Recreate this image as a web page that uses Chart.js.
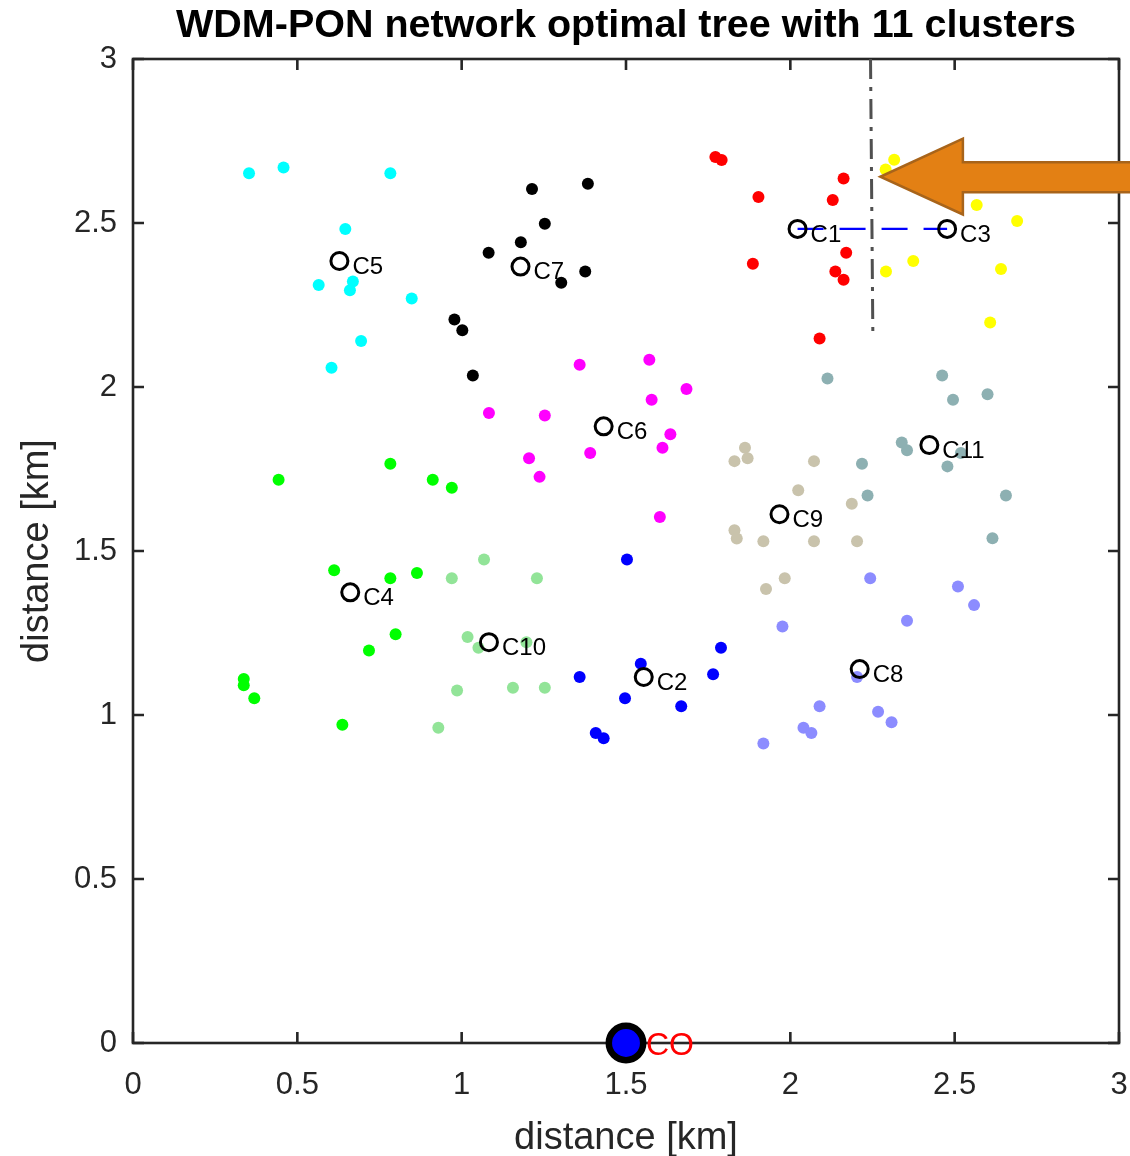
<!DOCTYPE html>
<html lang="en">

<head>
  <meta charset="UTF-8">
  <script src="https://cdn.jsdelivr.net/npm/chart.js@4.4.1/dist/chart.umd.min.js"></script>
  <title>WDM-PON tree</title>
  <style>
    body { margin: 0; background: #fff; }
  </style>
</head>

<body>
  <canvas id="myChart" width="1130" height="1156"></canvas>
  <script>
    // cluster member points, [x, y] in km
    const c1Points = [[1.772, 2.701], [1.791, 2.692], [1.903, 2.579], [2.162, 2.636], [2.129, 2.570],
      [2.170, 2.409], [1.886, 2.376], [2.137, 2.352], [2.162, 2.327], [2.089, 2.148]];
    const c2Points = [[1.503, 1.474], [1.359, 1.116], [1.497, 1.051], [1.408, 0.945], [1.432, 0.929],
      [1.545, 1.156], [1.789, 1.205], [1.765, 1.124], [1.668, 1.027]];
    const c3Points = [[2.316, 2.693], [2.290, 2.663], [2.567, 2.555], [2.690, 2.506], [2.374, 2.384],
      [2.291, 2.352], [2.641, 2.360], [2.608, 2.197]];
    const c4Points = [[0.443, 1.717], [0.783, 1.766], [0.912, 1.717], [0.970, 1.693], [0.612, 1.441],
      [0.783, 1.417], [0.864, 1.433], [0.799, 1.246], [0.718, 1.197], [0.337, 1.110], [0.337, 1.091],
      [0.369, 1.051], [0.637, 0.970]];
    const c5Points = [[0.353, 2.652], [0.458, 2.669], [0.783, 2.652], [0.646, 2.482], [0.565, 2.311],
      [0.669, 2.322], [0.660, 2.295], [0.848, 2.270], [0.694, 2.140], [0.604, 2.059]];
    const c6Points = [[1.359, 2.068], [1.083, 1.921], [1.253, 1.913], [1.571, 2.083], [1.684, 1.994],
      [1.578, 1.961], [1.635, 1.856], [1.611, 1.815], [1.603, 1.604], [1.391, 1.799], [1.205, 1.783],
      [1.237, 1.726]];
    const c7Points = [[1.214, 2.604], [1.384, 2.620], [1.253, 2.498], [1.180, 2.441], [1.082, 2.409],
      [1.376, 2.352], [1.303, 2.318], [0.978, 2.206], [1.002, 2.173], [1.034, 2.035]];
    const c8Points = [[2.243, 1.417], [2.510, 1.392], [2.559, 1.335], [2.355, 1.287], [1.976, 1.270],
      [2.203, 1.116], [2.089, 1.027], [2.267, 1.010], [2.308, 0.978], [2.040, 0.961], [2.064, 0.945],
      [1.918, 0.913]];
    const c9Points = [[1.862, 1.815], [1.830, 1.774], [1.870, 1.783], [2.072, 1.774], [2.024, 1.685],
      [2.187, 1.644], [1.830, 1.563], [1.837, 1.538], [1.918, 1.530], [2.072, 1.530], [2.203, 1.530],
      [1.983, 1.417], [1.926, 1.384]];
    const c10Points = [[1.068, 1.474], [0.970, 1.417], [1.229, 1.417], [1.018, 1.238], [1.051, 1.205],
      [1.197, 1.222], [0.986, 1.075], [1.156, 1.083], [1.253, 1.083], [0.929, 0.961]];
    const c11Points = [[2.113, 2.026], [2.462, 2.035], [2.495, 1.961], [2.600, 1.978], [2.339, 1.831],
      [2.355, 1.807], [2.519, 1.799], [2.478, 1.758], [2.218, 1.766], [2.235, 1.669], [2.656, 1.669],
      [2.615, 1.539]];

    // cluster heads
    const headNames = ['C1', 'C2', 'C3', 'C4', 'C5', 'C6', 'C7', 'C8', 'C9', 'C10', 'C11'];
    const headX = [2.022, 1.554, 2.477, 0.661, 0.628, 1.432, 1.179, 2.211, 1.967, 1.083, 2.423];
    const headY = [2.482, 1.116, 2.482, 1.374, 2.384, 1.880, 2.367, 1.140, 1.612, 1.222, 1.823];

    // central office
    const coX = [1.5];
    const coY = [0];

    // link C1 - C3 and the dash-dot divider
    const linkX = [2.022, 2.477];
    const linkY = [2.482, 2.482];
    const dividerX = [2.244, 2.251];
    const dividerY = [3.0, 2.169];

    // arrow: tip, head back, shaft end (x) / head top, shaft top, tip, shaft bottom, head bottom (y)
    const arrowX = [2.274, 2.525, 3.1];
    const arrowY = [2.757, 2.685, 2.641, 2.594, 2.526];

    const axisTicks = [0, 0.5, 1, 1.5, 2, 2.5, 3];

    const FONT = "'Liberation Sans', Arial, Helvetica, sans-serif";
    const AXIS = '#262626';

    const clusters = [
      [c1Points, '#ff0000'], [c2Points, '#0000ff'], [c3Points, '#ffff00'], [c4Points, '#00ff00'],
      [c5Points, '#00ffff'], [c6Points, '#ff00ff'], [c7Points, '#000000'], [c8Points, 'rgb(140,140,255)'],
      [c9Points, 'rgb(201,195,172)'], [c10Points, 'rgb(146,228,152)'], [c11Points, 'rgb(141,176,178)']
    ];

    const toXY = (xs, ys) => xs.map((x, i) => ({ x: x, y: ys[i] }));

    const datasets = clusters.map(([pts, col], i) => ({
      label: headNames[i],
      data: pts.map(p => ({ x: p[0], y: p[1] })),
      backgroundColor: col,
      borderWidth: 0,
      pointRadius: 6,
      pointHoverRadius: 6,
      order: 5
    }));

    datasets.push({
      label: 'link',
      data: toXY(linkX, linkY),
      showLine: true,
      borderColor: '#0000ff',
      borderWidth: 2.2,
      borderDash: [26, 16],
      pointRadius: 0,
      order: 3
    });
    datasets.push({
      label: 'divider',
      data: toXY(dividerX, dividerY),
      showLine: true,
      borderColor: '#505050',
      borderWidth: 3,
      borderDash: [20, 8, 4, 8],
      pointRadius: 0,
      order: 3
    });
    datasets.push({
      label: 'heads',
      data: toXY(headX, headY),
      backgroundColor: 'rgba(0,0,0,0)',
      borderColor: '#000000',
      borderWidth: 3,
      pointRadius: 8.5,
      order: 2
    });
    datasets.push({
      label: 'CO',
      data: toXY(coX, coY),
      backgroundColor: '#0000ff',
      borderColor: '#000000',
      borderWidth: 6.5,
      pointRadius: 17.2,
      clip: false,
      order: 1
    });

    // MATLAB style box with inward ticks
    const boxPlugin = {
      id: 'box',
      beforeDatasetsDraw(chart) {
        const { ctx, chartArea: a, scales } = chart;
        ctx.save();
        ctx.strokeStyle = AXIS;
        ctx.lineWidth = 2.6;
        ctx.strokeRect(a.left, a.top, a.right - a.left, a.bottom - a.top);
        ctx.beginPath();
        axisTicks.forEach(v => {
          const px = scales.x.getPixelForValue(v);
          const py = scales.y.getPixelForValue(v);
          ctx.moveTo(px, a.bottom); ctx.lineTo(px, a.bottom - 11);
          ctx.moveTo(px, a.top); ctx.lineTo(px, a.top + 11);
          ctx.moveTo(a.left, py); ctx.lineTo(a.left + 11, py);
          ctx.moveTo(a.right, py); ctx.lineTo(a.right - 11, py);
        });
        ctx.stroke();
        ctx.restore();
      }
    };

    // head labels, CO label, arrow
    const notesPlugin = {
      id: 'notes',
      afterDraw(chart) {
        const { ctx, scales } = chart;
        const sx = v => scales.x.getPixelForValue(v);
        const sy = v => scales.y.getPixelForValue(v);
        ctx.save();
        ctx.font = '24px ' + FONT;
        ctx.fillStyle = '#000';
        ctx.textBaseline = 'middle';
        ctx.textAlign = 'left';
        headNames.forEach((n, i) => {
          ctx.fillText(n, sx(headX[i]) + 13, sy(headY[i]) + 6);
        });
        ctx.font = '32px ' + FONT;
        ctx.fillStyle = '#ff0000';
        ctx.fillText('CO', sx(coX[0]) + 20, sy(coY[0]) + 3);

        ctx.beginPath();
        ctx.moveTo(sx(arrowX[0]), sy(arrowY[2]));
        ctx.lineTo(sx(arrowX[1]), sy(arrowY[0]));
        ctx.lineTo(sx(arrowX[1]), sy(arrowY[1]));
        ctx.lineTo(sx(arrowX[2]), sy(arrowY[1]));
        ctx.lineTo(sx(arrowX[2]), sy(arrowY[3]));
        ctx.lineTo(sx(arrowX[1]), sy(arrowY[3]));
        ctx.lineTo(sx(arrowX[1]), sy(arrowY[4]));
        ctx.closePath();
        ctx.fillStyle = '#e38014';
        ctx.fill();
        ctx.strokeStyle = '#a8641a';
        ctx.lineWidth = 2.5;
        ctx.lineJoin = 'miter';
        ctx.stroke();
        ctx.restore();
      }
    };

    function axisOpts(isX) {
      return {
        type: 'linear',
        min: 0,
        max: 3,
        ticks: {
          stepSize: 0.5,
          color: AXIS,
          font: { family: FONT, size: 31 },
          padding: isX ? 24 : 16,
          maxRotation: 0,
          callback: v => String(v)
        },
        grid: { display: false, drawTicks: false },
        border: { display: false },
        title: {
          display: true,
          text: 'distance [km]',
          color: AXIS,
          font: { family: FONT, size: 38 },
          padding: isX ? { top: 0, bottom: -5 } : { top: 15, bottom: 0 }
        },
        afterFit(scale) {
          if (isX) {
            scale.height = 113;
            scale.paddingLeft = 0;
            scale.paddingRight = 0;
          } else {
            scale.width = 133;
            scale.paddingTop = 0;
            scale.paddingBottom = 0;
          }
        }
      };
    }

    new Chart('myChart', {
      type: 'scatter',
      data: { datasets: datasets },
      options: {
        responsive: false,
        animation: false,
        layout: { autoPadding: false, padding: { left: 0, right: 11, top: 0, bottom: 0 } },
        plugins: {
          legend: { display: false },
          tooltip: { enabled: false },
          title: {
            display: true,
            fullSize: false,
            text: 'WDM-PON network optimal tree with 11 clusters',
            color: '#000',
            font: { family: FONT, size: 39.5, weight: 'bold' },
            padding: { top: 2, bottom: 9.6 }
          }
        },
        scales: { x: axisOpts(true), y: axisOpts(false) }
      },
      plugins: [boxPlugin, notesPlugin]
    });
  </script>
</body>

</html>
